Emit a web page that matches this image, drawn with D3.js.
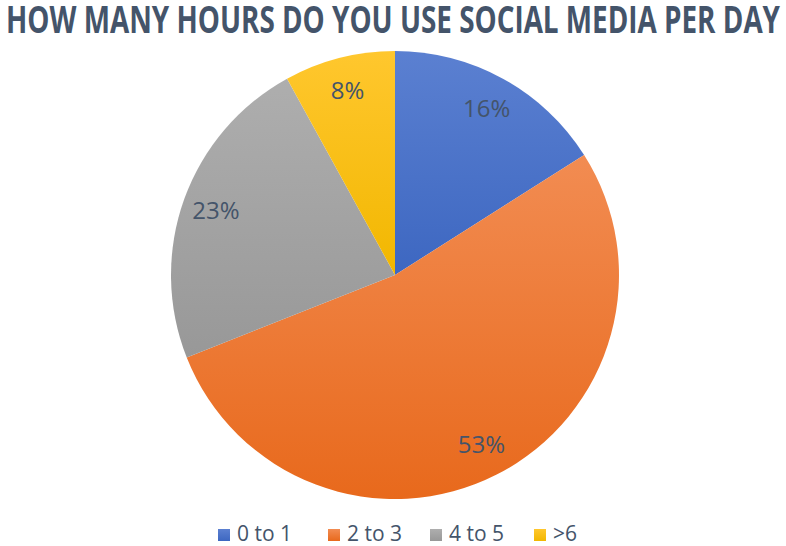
<!DOCTYPE html>
<html><head><meta charset="utf-8">
<script src="https://cdnjs.cloudflare.com/ajax/libs/d3/7.8.5/d3.min.js"></script>
<style>body{margin:0;background:#fff}svg{display:block}</style>
</head><body>
<svg id="c" width="786" height="546"></svg>
<script>
const title = "HOW MANY HOURS DO YOU USE SOCIAL MEDIA PER DAY";
const categories = ["0 to 1", "2 to 3", "4 to 5", ">6"];
const values = [16, 53, 23, 8];
const colorsTop = ["#5B80D1", "#F28C52", "#AEAEAE", "#FFC72E"];
const colorsBottom = ["#3D67C1", "#E8691C", "#989898", "#F2B700"];
const textColor = "#44546A";

const svg = d3.select("#c");
const W = 786, cx = 395, cy = 275, R = 224;

svg.append("text").attr("x", W/2).attr("y", 33).attr("text-anchor","middle")
  .attr("font-family","'Open Sans', sans-serif").attr("font-weight","bold")
  .attr("font-size", 37).attr("fill", textColor)
  .attr("textLength", 774).attr("lengthAdjust","spacingAndGlyphs").text(title);

const defs = svg.append("defs");
categories.forEach((c,i)=>{
  const g = defs.append("linearGradient").attr("id","g"+i).attr("x1",0).attr("y1",0).attr("x2",0).attr("y2",1);
  g.append("stop").attr("offset","0%").attr("stop-color",colorsTop[i]);
  g.append("stop").attr("offset","100%").attr("stop-color",colorsBottom[i]);
});

const pie = d3.pie().sort(null).value(d=>d)(values);
const arc = d3.arc().innerRadius(0).outerRadius(R);
const labelArc = d3.arc().innerRadius(R*0.85).outerRadius(R*0.85);
const total = d3.sum(values);

const g = svg.append("g").attr("transform",`translate(${cx},${cy})`);
g.selectAll("path").data(pie).join("path")
  .attr("d", arc).attr("fill",(d,i)=>`url(#g${i})`);

g.selectAll("text").data(pie).join("text")
  .attr("transform", d=>{const [x,y]=labelArc.centroid(d); return `translate(${x},${y})`;})
  .attr("text-anchor","middle").attr("dy","0.36em")
  .attr("font-family","'Open Sans', sans-serif").attr("font-size",24)
  .attr("fill", textColor)
  .text(d=>Math.round(d.data/total*100)+"%");

// legend
const legendX = [218, 328, 430, 534];
const lg = svg.append("g");
categories.forEach((c,i)=>{
  lg.append("rect").attr("x",legendX[i]).attr("y",529).attr("width",12).attr("height",12)
    .attr("fill",`url(#g${i})`);
  lg.append("text").attr("x",legendX[i]+19).attr("y",541)
    .attr("font-family","'Open Sans', sans-serif").attr("font-size",21)
    .attr("fill", textColor).text(c);
});
</script>
</body></html>
